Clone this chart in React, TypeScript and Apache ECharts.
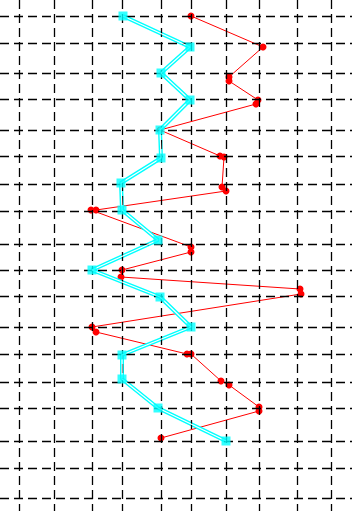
import React, { useEffect, useRef } from "react";
import * as echarts from "echarts";

// Grid line positions (axis values)
const gridX = [19, 54, 92, 122, 161, 191, 226, 259, 297, 331];
const gridY = [16, 43, 73, 99, 130, 156, 184, 211, 244, 270, 296, 327, 354, 382, 408, 441, 468, 498];

// Cyan series
const cyanX = [123, 190, 161, 190, 160, 161, 121, 122, 158, 92, 160, 191, 122, 122, 158, 226];
const cyanY = [16, 47, 73, 100, 130, 158, 183, 210, 240, 270, 297, 327, 355, 379, 408, 441];

// Red series
const redX = [191, 263, 229, 229, 258, 256, 160, 220, 224, 222, 226, 96, 91, 191, 191, 122, 121, 300, 301, 92, 96, 187, 191, 221, 229, 259, 259, 161];
const redY = [16, 47, 77, 81, 100, 104, 130, 156, 157, 187, 191, 210, 210, 247, 252, 270, 277, 289, 294, 327, 332, 354, 354, 381, 385, 407, 411, 438];

export default function App() {
  const ref = useRef<HTMLDivElement>(null);
  useEffect(() => {
    if (!ref.current) return;
    const chart = echarts.init(ref.current, null, { renderer: "svg" });
    const cyan = cyanX.map((x, i) => [x, cyanY[i]]);
    const red = redX.map((x, i) => [x, redY[i]]);
    const dashStyle = { color: "#000", type: [9, 5] as any, width: 1.3 };
    chart.setOption({
      animation: false,
      grid: { left: 0, right: 0, top: 0, bottom: 0 },
      xAxis: {
        type: "value", min: 0, max: 352,
        show: false, splitLine: { show: false },
      },
      yAxis: {
        type: "value", min: 0, max: 511, inverse: true,
        show: false, splitLine: { show: false },
      },
      series: [
        {
          type: "line",
          data: [],
          silent: true,
          z: 1,
          markLine: {
            silent: true,
            symbol: ["none", "none"],
            label: { show: false },
            lineStyle: dashStyle,
            emphasis: { disabled: true },
            data: [
              ...gridX.map((v) => ({ xAxis: v })),
              ...gridY.map((v) => ({ yAxis: v })),
            ],
          },
        },
        {
          type: "line",
          data: red,
          z: 3,
          symbol: "circle",
          symbolSize: 7,
          showAllSymbol: true,
          lineStyle: { color: "#ff0000", width: 1 },
          itemStyle: { color: "#ff0000" },
        },
        {
          type: "line",
          data: cyan,
          z: 4,
          symbol: "none",
          lineStyle: { color: "#00ffff", width: 4 },
        },
        {
          type: "line",
          data: cyan,
          z: 5,
          symbol: "none",
          lineStyle: { color: "#ffffff", width: 1.2 },
        },
        {
          type: "scatter",
          data: cyan,
          z: 6,
          symbol: "rect",
          symbolSize: 9,
          itemStyle: { color: "#00ffff" },
        },
      ],
    });
    return () => chart.dispose();
  }, []);
  return (
    <div
      ref={ref}
      style={{ position: "absolute", left: 0, top: 0, width: 352, height: 511, background: "#fff" }}
    />
  );
}
